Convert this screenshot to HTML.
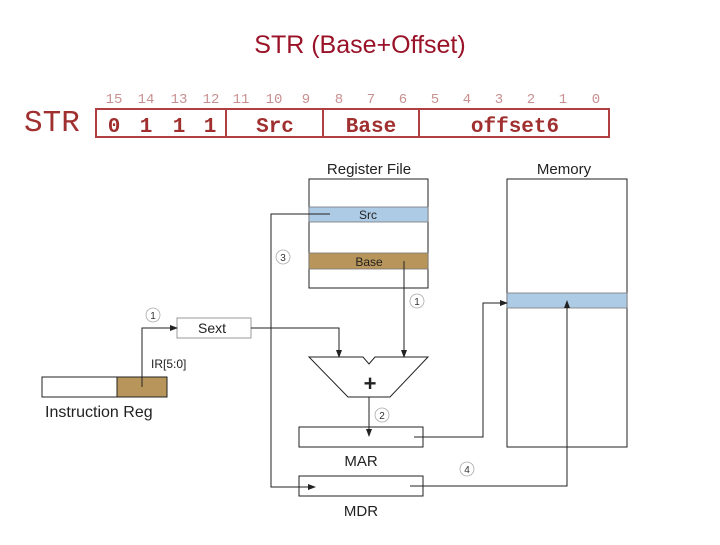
<!DOCTYPE html>
<html><head><meta charset="utf-8"><style>
body{margin:0;width:720px;height:540px;background:#fff;overflow:hidden}
</style></head><body>
<svg width="720" height="540" xmlns="http://www.w3.org/2000/svg" font-family="Liberation Sans, sans-serif">
<defs><marker id="a" markerWidth="8" markerHeight="8" refX="7" refY="4" orient="auto" markerUnits="userSpaceOnUse"><path d="M0,1 L8,4 L0,7 z" fill="#222"/></marker></defs>
<text x="360" y="53" text-anchor="middle" font-size="25" fill="#9a1228">STR (Base+Offset)</text>
<text x="24" y="131" font-family="Liberation Mono, monospace" font-size="31" fill="#a03030">STR</text>
<g fill="#c89090" font-family="Liberation Mono, monospace" font-size="14" text-anchor="middle">
<text x="114" y="103">15</text><text x="146" y="103">14</text><text x="179" y="103">13</text><text x="211" y="103">12</text><text x="241" y="103">11</text><text x="274" y="103">10</text><text x="306" y="103">9</text><text x="339" y="103">8</text><text x="371" y="103">7</text><text x="403" y="103">6</text><text x="435" y="103">5</text><text x="467" y="103">4</text><text x="499" y="103">3</text><text x="531" y="103">2</text><text x="563" y="103">1</text><text x="596" y="103">0</text>
</g>
<g fill="none" stroke="#b04040" stroke-width="2">
<rect x="96" y="109" width="513" height="28"/>
<line x1="226" y1="109" x2="226" y2="137"/><line x1="323" y1="109" x2="323" y2="137"/><line x1="419" y1="109" x2="419" y2="137"/>
</g>
<g fill="#a03030" font-family="Liberation Mono, monospace" font-weight="bold" font-size="21" text-anchor="middle">
<text x="114" y="132">0</text><text x="146" y="132">1</text><text x="179" y="132">1</text><text x="210" y="132">1</text>
<text x="275" y="132">Src</text><text x="371" y="132">Base</text><text x="515" y="132">offset6</text>
</g>
<g font-size="15" fill="#222" text-anchor="middle">
<text x="369" y="174">Register File</text><text x="564" y="174">Memory</text>
<text x="361" y="466">MAR</text><text x="361" y="516">MDR</text>
</g>
<rect x="309" y="179" width="119" height="109" fill="#fff" stroke="#222"/>
<rect x="309" y="207" width="119" height="15" fill="#aecbe6" stroke="#777" stroke-width=".8"/>
<rect x="309" y="253" width="119" height="16" fill="#b8955a" stroke="#777" stroke-width=".8"/>
<text x="368" y="219" font-size="12" text-anchor="middle" fill="#222">Src</text>
<text x="369" y="266" font-size="12" text-anchor="middle" fill="#222">Base</text>
<rect x="507" y="179" width="120" height="268" fill="#fff" stroke="#222"/>
<rect x="507" y="293" width="120" height="15" fill="#aecbe6" stroke="#777" stroke-width=".8"/>
<rect x="177" y="318" width="74" height="20" fill="#fff" stroke="#999"/>
<text x="212" y="333" font-size="14" text-anchor="middle" fill="#222">Sext</text>
<rect x="42" y="377" width="75" height="20" fill="#fff" stroke="#222"/>
<rect x="117" y="377" width="50" height="20" fill="#b8955a" stroke="#222"/>
<text x="45" y="417" font-size="16" fill="#222">Instruction Reg</text>
<text x="151" y="368" font-size="12" fill="#222">IR[5:0]</text>
<path d="M309,357 L363,357 L369,364 L375,357 L428,357 L390,397 L348,397 Z" fill="#fff" stroke="#222"/>
<text x="370" y="391" font-size="22" font-weight="bold" text-anchor="middle" fill="#222">+</text>
<rect x="299" y="427" width="124" height="20" fill="#fff" stroke="#222"/>
<rect x="299" y="476" width="124" height="20" fill="#fff" stroke="#222"/>
<g fill="none" stroke="#222" stroke-width="1">
<path d="M330,214 L271,214 L271,487 L315,487" marker-end="url(#a)"/>
<path d="M404,261 L404,357" marker-end="url(#a)"/>
<path d="M251,328 L339,328 L339,357" marker-end="url(#a)"/>
<path d="M142,387 L142,328 L177,328" marker-end="url(#a)"/>
<path d="M369,397 L369,436" marker-end="url(#a)"/>
<path d="M414,437 L483,437 L483,303 L507,303" marker-end="url(#a)"/>
<path d="M410,486 L567,486 L567,301" marker-end="url(#a)"/>
</g>
<g fill="none" stroke="#aaa" stroke-width=".8"><circle cx="283" cy="257" r="7"/><circle cx="417" cy="301" r="7"/><circle cx="153" cy="315" r="7"/><circle cx="382" cy="415" r="7"/><circle cx="467" cy="469" r="7"/></g>
<g font-size="10" fill="#333" text-anchor="middle"><text x="283" y="261">3</text><text x="417" y="305">1</text><text x="153" y="319">1</text><text x="382" y="419">2</text><text x="467" y="473">4</text></g>
</svg>
</body></html>
